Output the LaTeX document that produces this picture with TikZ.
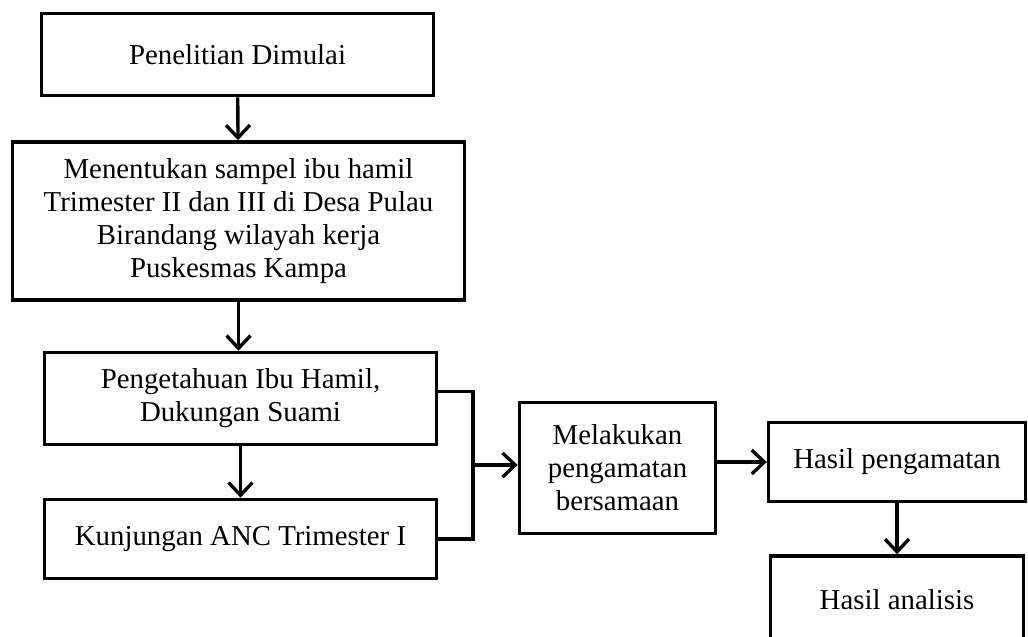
\documentclass[tikz,border=0pt]{standalone}
\usepackage{fontspec}
\setmainfont{Liberation Serif}
\usetikzlibrary{arrows.meta}

\begin{document}
\begin{tikzpicture}[x=0.025cm, y=-0.025cm,
    box/.style={draw, line width=2.5pt, align=center, inner sep=2pt,
      font=\fontsize{20.5}{23.5}\selectfont},
    flow/.style={line width=2.4pt, -{Straight Barb[length=9pt, width=17pt, line width=2.4pt]}}]
  % Frame of the page
  \clip (0,0) rectangle (1028,637);

  % Left column
  \node[box, minimum width=9.8cm, minimum height=2.05cm] (start) at (237.5,54.5)
    {Penelitian Dimulai};
  \node[box, minimum width=11.3cm, minimum height=3.95cm] (sample) at (238.5,221)
    {Menentukan sampel ibu hamil\\Trimester II dan III di Desa Pulau\\Birandang wilayah kerja\\Puskesmas Kampa};
  \node[box, minimum width=9.8cm, minimum height=2.3cm] (know) at (240.5,398.5)
    {Pengetahuan Ibu Hamil,\\Dukungan Suami};
  \node[box, minimum width=9.8cm, minimum height=1.98cm] (anc) at (240.5,539)
    {Kunjungan ANC Trimester I};

  % Middle and right
  \node[box, minimum width=4.9cm, minimum height=3.28cm] (observe) at (617.5,468)
    {Melakukan\\pengamatan\\bersamaan};
  \node[box, minimum width=6.42cm, minimum height=1.98cm] (result) at (897,462)
    {Hasil pengamatan};
  \node[box, minimum width=6.32cm, minimum height=2.2cm] (analysis) at (897,600)
    {Hasil analisis};

  % Joint of the bracket
  \coordinate (joint) at (473,465);

  % Arrows
  \draw[flow] (start) -- (sample);
  \draw[flow] (sample.south) -- (sample.south |- know.north);
  \draw[flow] (know) -- (anc);
  \draw[line width=2.4pt] ([yshift=0.18cm]know.east) -| (joint) |- (anc.east);
  \draw[flow] (joint) -- (joint -| observe.west);
  \draw[flow] (result.west -| observe.east) -- (result.west);
  \draw[flow] (result) -- (analysis);
\end{tikzpicture}
\end{document}
